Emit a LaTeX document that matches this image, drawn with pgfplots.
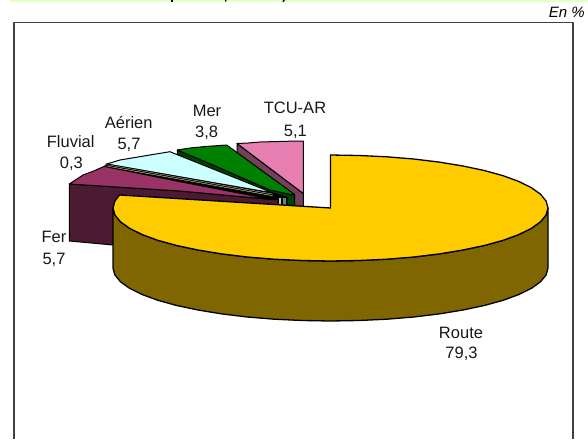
\documentclass[border=0pt]{standalone}
\usepackage{pgfplots}
\pgfplotsset{compat=1.18}
\usepackage{fontspec}
\setmainfont{Liberation Sans}
\definecolor{cRoute}{HTML}{FFCC00}
\definecolor{cRouteS}{HTML}{806600}
\definecolor{cFer}{HTML}{993366}
\definecolor{cFerS}{HTML}{4D1A33}
\definecolor{cAir}{HTML}{CCFFFF}
\definecolor{cAirS}{HTML}{5F8585}
\definecolor{cFluv}{HTML}{C8C8A0}
\definecolor{cMer}{HTML}{008000}
\definecolor{cMerS}{HTML}{004000}
\definecolor{cTcu}{HTML}{E77FB3}
\definecolor{cTcuS}{HTML}{74405A}
\definecolor{cStrip}{HTML}{E6FFC4}
\definecolor{cFrame}{HTML}{404040}
\begin{document}
\begin{tikzpicture}[lab/.style={font=\fontsize{16.5}{18}\selectfont, text=black!90, inner sep=0pt, anchor=center}]
\begin{axis}[
  width=588pt, height=439pt, scale only axis,
  xmin=0, xmax=588, ymin=0, ymax=439, y dir=reverse,
  hide axis, clip=true,
  every axis plot/.append style={mark=none, line join=round},
]
% page
\addplot[fill=white, draw=none] coordinates {(0,0)(588,0)(588,439)(0,439)} -- cycle;
% header strip
\addplot[fill=cStrip, draw=none] coordinates {(10,0)(588,0)(588,2.3)(10,2.3)} -- cycle;
\addplot[fill=black, draw=none] coordinates {(170.5,0)(173,0)(173,2)(170.5,2)} -- cycle;
\addplot[fill=black, draw=none] coordinates {(225,0)(226.5,0)(226,2)(225.5,2)} -- cycle;
\addplot[fill=black, draw=none] coordinates {(283,0)(285,0)(283.5,2)(282.5,2)} -- cycle;
% frame
\addplot[draw=cFrame, line width=1.8pt] coordinates {(14,439)(14,22.5)(573,22.5)(573,439)};
% TCU-AR
\addplot[fill=cTcuS, draw=black, line width=1pt] coordinates {(237,143.5)(303.3,193.5)(303.3,253)(237,203)} -- cycle;
\addplot[fill=cTcu, draw=black, line width=1pt] coordinates {(303.3,193.5)(303.3,141)(290,141.2)(275,141.6)(260,142)(248,143)(237,143.5)} -- cycle;
% Mer
\addplot[fill=cMerS, draw=black, line width=1pt] coordinates {(177.3,150)(213,165)(270,190)(291,194.5)(294.7,194.5)(294.7,254)(177.3,210)} -- cycle;
\addplot[fill=cMer, draw=black, line width=1pt] coordinates {(294.7,194.5)(291,194.5)(270,190)(213,165)(177.3,150)(190,148)(205,146.5)(226.7,145)} -- cycle;
% Aerien
\addplot[fill=black, draw=black, line width=1pt] coordinates {(106.7,164)(273,193)(287,197)(287,250)(106.7,220)} -- cycle;
\addplot[fill=cAir, draw=black, line width=1pt] coordinates {(106.7,164)(120,160)(135,157.5)(150,155)(170,151.7)(178,155)(203,165)(273,193)} -- cycle;
% Fluvial
\addplot[fill=cFluv, draw=black, line width=0.7pt] coordinates {(106.7,164)(273,193.5)(273,195)(105.5,165.2)} -- cycle;
\addplot[fill=cFluv, draw=black, line width=0.7pt] coordinates {(105.5,165.2)(273,195)(273,196.5)(104,166.4)} -- cycle;
% columns near the centre
\addplot[fill=cAirS, draw=black, line width=0.6pt] coordinates {(282,197)(286.3,197)(286.3,210)(282,210)} -- cycle;
\addplot[fill=cFluv, draw=black, line width=0.6pt] coordinates {(278.5,197)(281.5,197)(281.5,210)(278.5,210)} -- cycle;
% Fer
\addplot[fill=cFerS, draw=black, line width=1pt] coordinates {(69.3,184)(180,191)(272,199.5)(278,199.5)(278,260)(69.3,241)} -- cycle;
\addplot[fill=cFer, draw=black, line width=1pt] coordinates {(69.3,184)(83,175)(95,170.5)(104,166.4)(180,181.7)(272,199.5)(180,191)} -- cycle;
% Route
\addplot[fill=cRouteS, draw=black, line width=1.3pt] coordinates {
(548,208)(546.1,214.9)(540.6,221.7)(531.4,228.3)(518.9,234.5)(503.1,240.3)(484.3,245.5)(462.9,250)(439.3,253.9)(413.7,257)(386.8,259.2)(358.9,260.5)(330.5,261)(302.1,260.5)(274.2,259.2)(247.3,257)(221.7,253.9)(198.1,250)(176.7,245.5)(157.9,240.3)(142.1,234.5)(129.6,228.3)(120.4,221.7)(114.9,214.9)(113,208)
(113,268)(114.9,274.9)(120.4,281.7)(129.6,288.3)(142.1,294.5)(157.9,300.3)(176.7,305.5)(198.1,310)(221.7,313.9)(247.3,317)(274.2,319.2)(302.1,320.5)(330.5,321)(358.9,320.5)(386.8,319.2)(413.7,317)(439.3,313.9)(462.9,310)(484.3,305.5)(503.1,300.3)(518.9,294.5)(531.4,288.3)(540.6,281.7)(546.1,274.9)(548,268)} -- cycle;
\addplot[fill=cRoute, draw=black, line width=1.3pt] coordinates {
(330.5,208)(330.5,155)(358.9,155.5)(386.8,156.8)(413.7,159)(439.3,162.1)(462.9,166)(484.3,170.5)(503.1,175.7)(518.9,181.5)(531.4,187.7)(540.6,194.3)(546.1,201.1)(548,208)(546.1,214.9)(540.6,221.7)(531.4,228.3)(518.9,234.5)(503.1,240.3)(484.3,245.5)(462.9,250)(439.3,253.9)(413.7,257)(386.8,259.2)(358.9,260.5)(330.5,261)(302.1,260.5)(274.2,259.2)(247.3,257)(221.7,253.9)(198.1,250)(176.7,245.5)(157.9,240.3)(142.1,234.5)(129.6,228.3)(120.4,221.7)(114.9,214.9)(113,208)(114.9,201.1)(119.5,195)} -- cycle;
% labels
\node[lab] at (axis cs:461,332.5) {Route};
\node[lab] at (axis cs:461.5,353.5) {79,3};
\node[lab] at (axis cs:54,237) {Fer};
\node[lab] at (axis cs:54,260) {5,7};
\node[lab] at (axis cs:70.7,141.5) {Fluvial};
\node[lab] at (axis cs:71.3,164) {0,3};
\node[lab] at (axis cs:128.7,123) {Aérien};
\node[lab] at (axis cs:129,145) {5,7};
\node[lab] at (axis cs:207,111) {Mer};
\node[lab] at (axis cs:206.7,133) {3,8};
\node[lab] at (axis cs:295,108) {TCU-AR};
\node[lab] at (axis cs:295.3,131.5) {5,1};
\node[font=\fontsize{15}{16}\selectfont\itshape, inner sep=0pt, anchor=east] at (axis cs:585,12.5) {En \%};
\end{axis}
\end{tikzpicture}
\end{document}
